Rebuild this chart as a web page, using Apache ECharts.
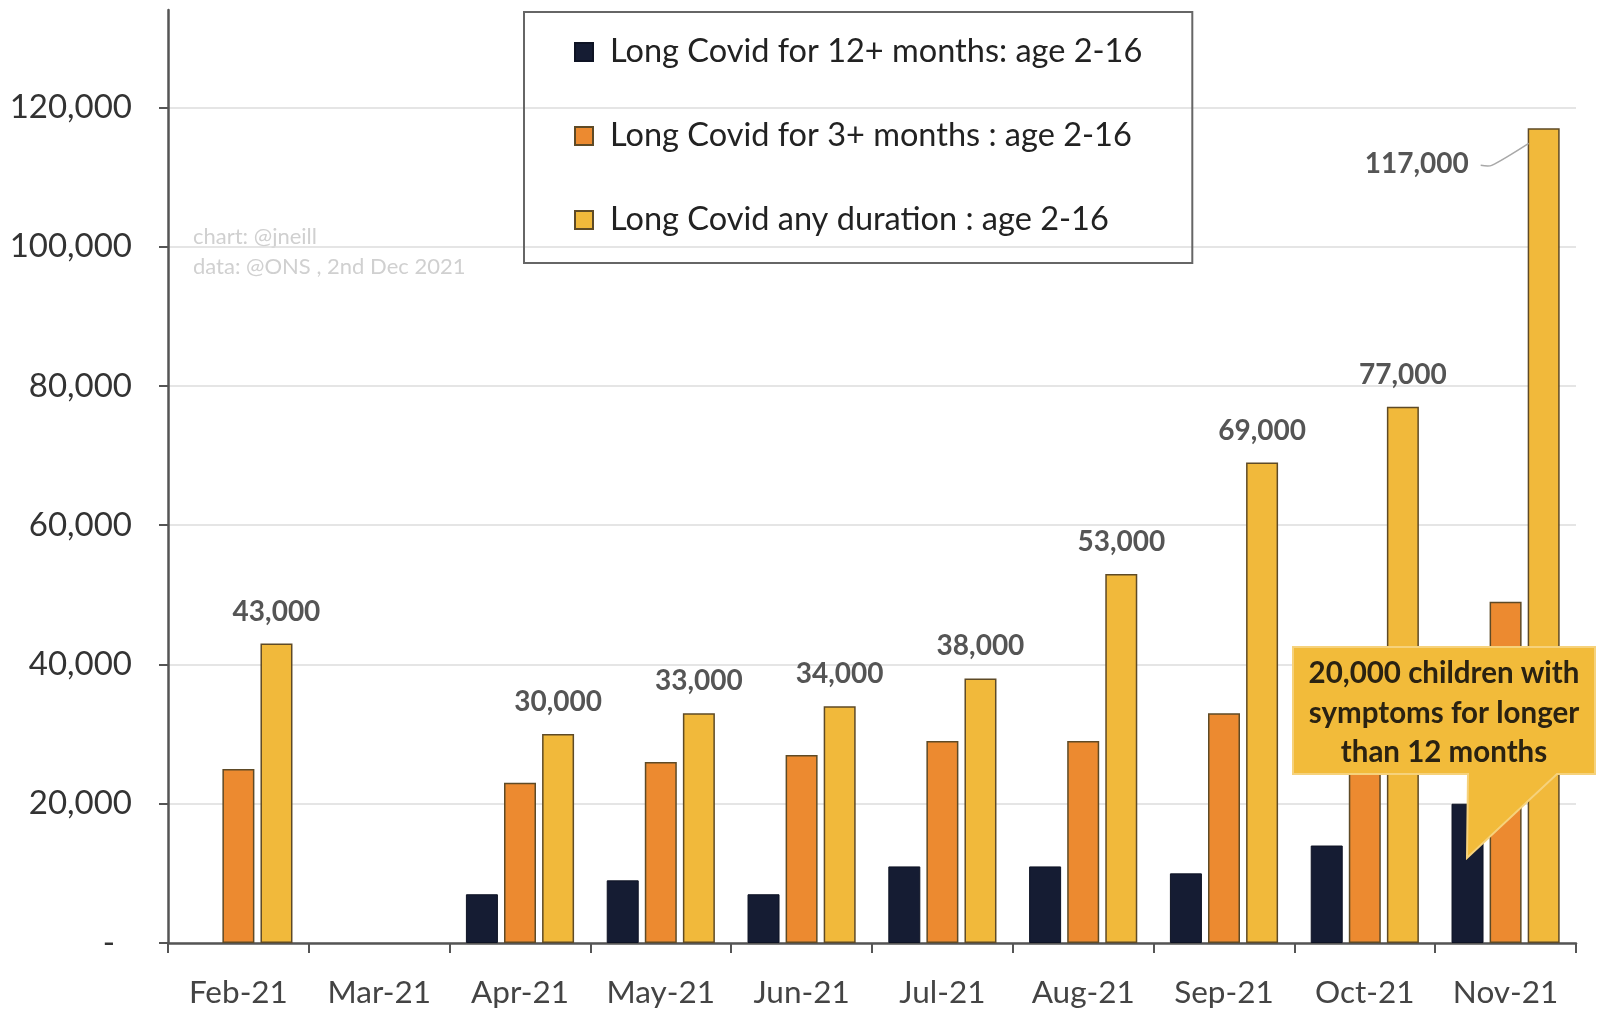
<!DOCTYPE html>
<html><head><meta charset="utf-8">
<script src="https://cdn.jsdelivr.net/npm/echarts@6/dist/echarts.min.js"></script>
<style>html,body{margin:0;padding:0;background:#fff}#c{width:1612px;height:1009px}</style>
</head><body><div id="c"></div>
<script>
const categories = ['Feb-21','Mar-21','Apr-21','May-21','Jun-21','Jul-21','Aug-21','Sep-21','Oct-21','Nov-21'];
const months12Plus = [null, null, 7000, 9000, 7000, 11000, 11000, 10000, 14000, 20000];
const months3Plus = [25000, null, 23000, 26000, 27000, 29000, 29000, 33000, 40000, 49000];
const anyDuration = [43000, null, 30000, 33000, 34000, 38000, 53000, 69000, 77000, 117000];
const seriesNames = ['Long Covid for 12+ months: age 2-16', 'Long Covid for 3+ months : age 2-16', 'Long Covid any duration : age 2-16'];
const yTickValues = [0, 20000, 40000, 60000, 80000, 100000, 120000];
const calloutLines = ['20,000 children with', 'symptoms for longer', 'than 12 months'];
const creditLines = ['chart: @jneill', 'data: @ONS , 2nd Dec 2021'];

const FONT = 'Lato, "Open Sans", sans-serif';
const fmt = v => String(v).replace(/\B(?=(\d{3})+(?!\d))/g, ',');
const colors = ['#151c33', '#ec8a30', '#f1b93b'];
const edge = '#5e4a26';

const chart = echarts.init(document.getElementById('c'));
const lastIdx = anyDuration.length - 1;

const baseGraphics = [
  {id: 'credit', type: 'text', left: 193, top: 222, silent: true,
   style: {text: creditLines.join('\n'), fill: '#d0d0d0', font: '22px ' + FONT, lineHeight: 30}},
  {id: 'calloutBox', type: 'polygon', z: 100, silent: true,
   shape: {points: [[1293,647],[1595,647],[1595,774],[1557,774],[1467,858],[1468,774],[1293,774]]},
   style: {fill: '#f2bb3a', stroke: '#f6d27c', lineWidth: 2}},
  {id: 'calloutText', type: 'text', z: 101, silent: true, x: 1444, y: 713,
   style: {text: calloutLines.join('\n'), fill: '#2a2212', font: 'bold 29.5px ' + FONT, lineHeight: 39.5, align: 'center', verticalAlign: 'middle'}}
];

chart.setOption({
  animation: false,
  textStyle: {fontFamily: FONT},
  grid: {left: 168, right: 36, top: 10, bottom: 65},
  legend: {
    left: 524, top: 12, orient: 'vertical',
    padding: [23, 50, 26, 50],
    borderColor: '#666', borderWidth: 2,
    itemWidth: 18, itemHeight: 18, itemGap: 50,
    icon: 'rect',
    textStyle: {fontSize: 32.5, color: '#222', fontFamily: FONT, lineHeight: 34, padding: [0, 0, 0, 12]},
    data: seriesNames
  },
  xAxis: {
    type: 'category', data: categories,
    axisLine: {lineStyle: {color: '#555', width: 2.5}},
    axisTick: {show: true, interval: 0, length: 10, lineStyle: {color: '#555', width: 2}},
    axisLabel: {interval: 0, fontSize: 31.5, color: '#444', margin: 34, fontFamily: FONT}
  },
  yAxis: {
    type: 'value', min: 0, max: 134000, interval: 20000,
    axisLine: {show: true, lineStyle: {color: '#555', width: 2.5}},
    axisTick: {show: true, length: 9, lineStyle: {color: '#555', width: 2}},
    splitLine: {show: true, lineStyle: {color: ['#dddddd','#dddddd','#dddddd','#dddddd','#dddddd','#dddddd','#dddddd','rgba(0,0,0,0)'], width: 1.5}},
    axisLabel: {
      fontSize: 33, color: '#333', margin: 36, fontFamily: FONT, showMaxLabel: false,
      formatter: v => (yTickValues.indexOf(v) < 0 ? '' : (v === 0 ? '-  ' : fmt(v)))
    }
  },
  series: [
    {name: seriesNames[0], type: 'bar', data: months12Plus, barWidth: 32, barGap: '19%',
     itemStyle: {color: colors[0], borderColor: '#0e1324', borderWidth: 1}},
    {name: seriesNames[1], type: 'bar', data: months3Plus, barWidth: 32, barGap: '19%',
     itemStyle: {color: colors[1], borderColor: edge, borderWidth: 1.5}},
    {name: seriesNames[2], type: 'bar', data: anyDuration, barWidth: 32, barGap: '19%',
     itemStyle: {color: colors[2], borderColor: edge, borderWidth: 1.5},
     label: {show: true, position: 'top', distance: 18, fontSize: 28, fontWeight: 'bold', color: '#555', fontFamily: FONT,
             formatter: p => (p.value == null ? '' : fmt(p.value))},
     labelLayout: function (params) {
       if (params.dataIndex === lastIdx) {
         const r = params.rect;
         return {x: r.x - 59, y: r.y + 36, align: 'right', verticalAlign: 'middle'};
       }
       return {};
     }}
  ],
  graphic: baseGraphics
});

// leader line for the 117,000 label, anchored to the rendered bar layout
const r = chart.getModel().getSeriesByIndex(2).getData().getItemLayout(lastIdx);
if (r) {
  const top = Math.min(r.y, r.y + r.height);
  chart.setOption({
    graphic: baseGraphics.concat([{
      id: 'leader', type: 'polyline', silent: true, z: 5,
      shape: {points: [[r.x - 47, top + 37], [r.x - 36, top + 37], [r.x + 1, top + 15]], smooth: 0.25},
      style: {stroke: '#a8a8a8', lineWidth: 1.5, fill: null}
    }])
  });
}
</script></body></html>
